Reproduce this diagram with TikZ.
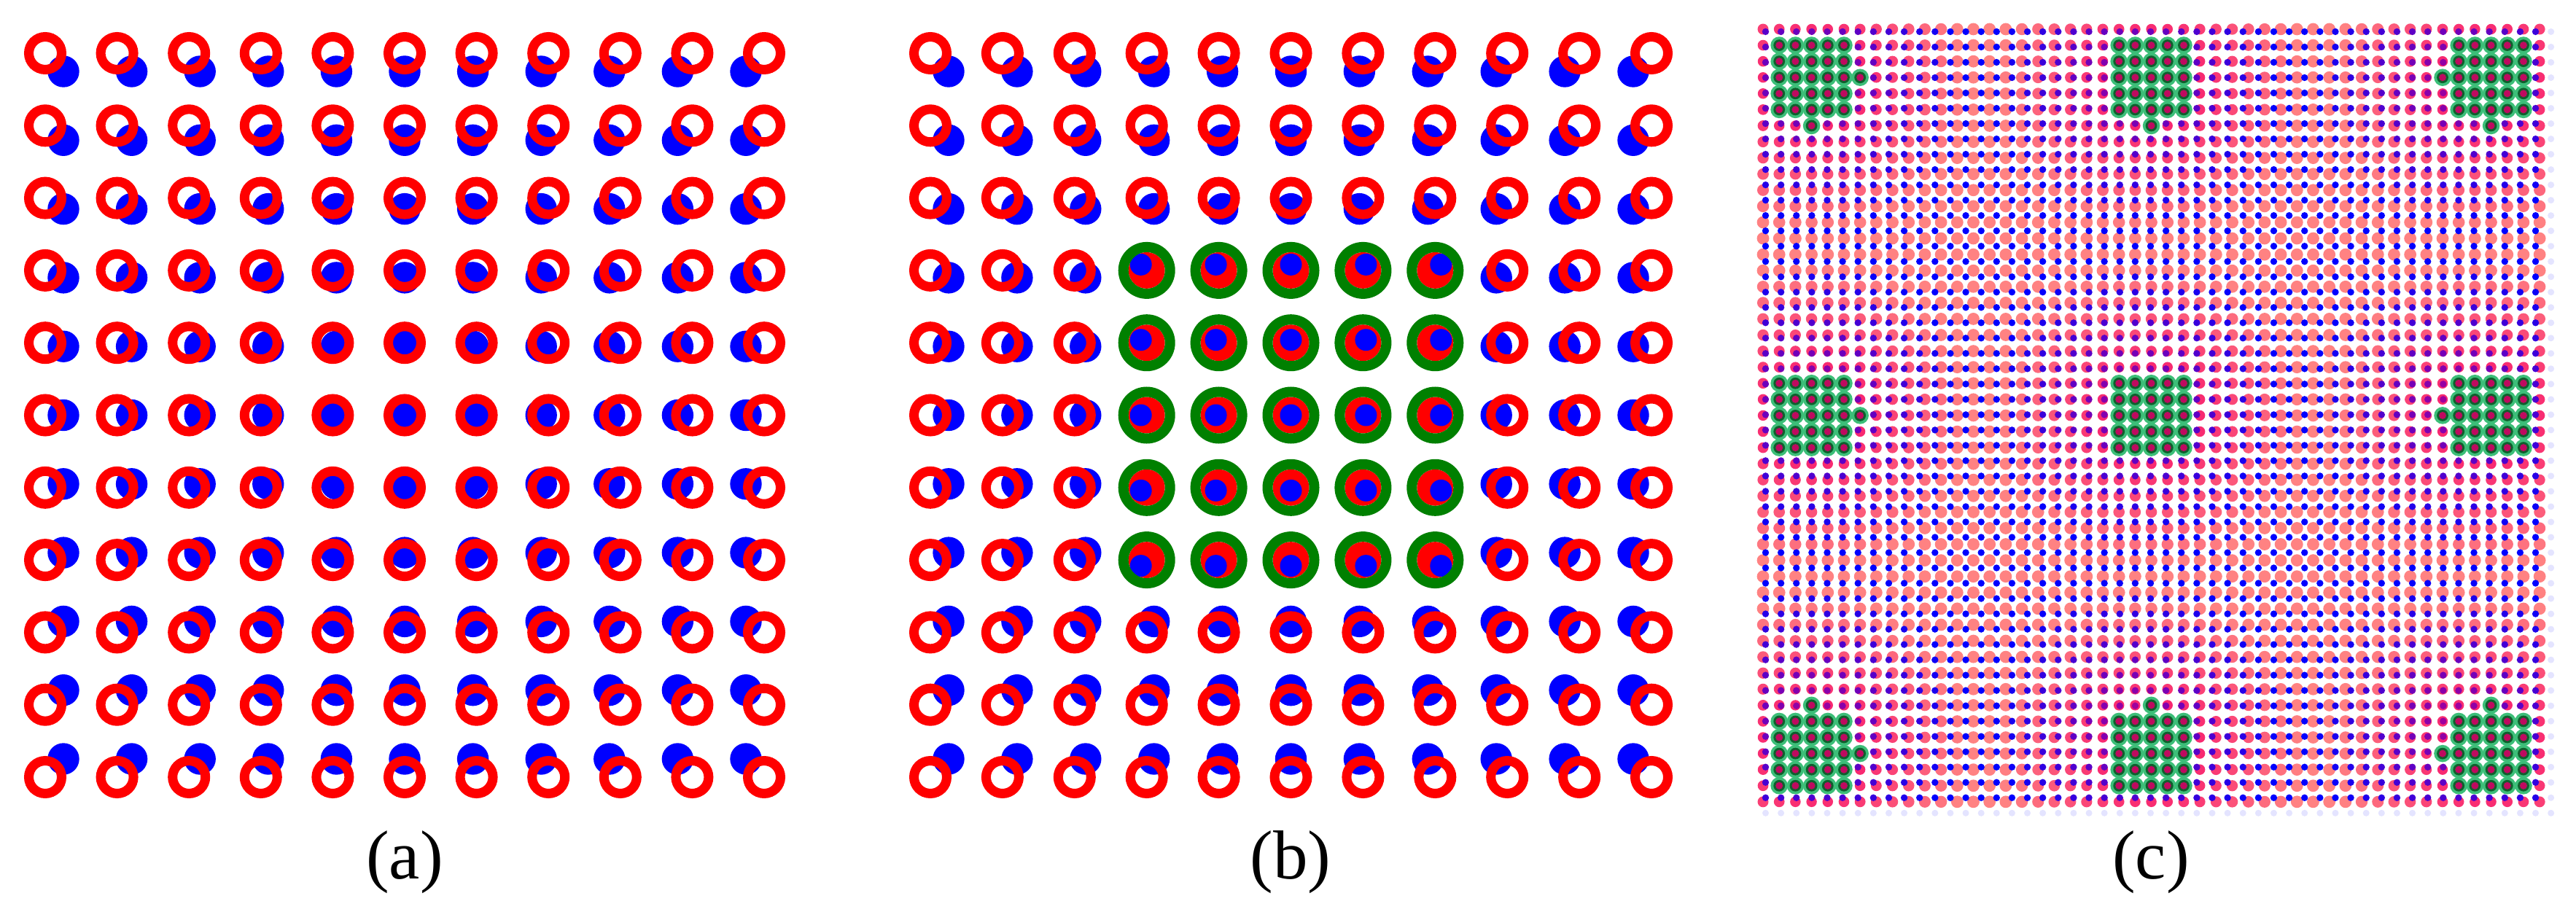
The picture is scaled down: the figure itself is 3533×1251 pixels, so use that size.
\documentclass[tikz,border=0pt]{standalone}
\usepackage{fontspec}
\setmainfont{Liberation Serif}
\definecolor{mred}{RGB}{255,0,0}
\definecolor{mblue}{RGB}{0,0,255}
\definecolor{mgreen}{RGB}{0,128,0}
\definecolor{salm}{RGB}{255,130,130}
\definecolor{crim}{RGB}{245,0,105}
\definecolor{mint}{RGB}{60,190,120}
\definecolor{dgreen}{RGB}{15,95,45}
\definecolor{gcent}{RGB}{190,10,95}
\definecolor{ghost}{RGB}{228,228,255}
\newcommand\gcells[1]{%
 \foreach \bc/\br in {3/3,24/3,45/3,3/24,24/24,45/24,3/45,24/45,45/45}{%
  \foreach \ga in {-2,...,2}{\foreach \gb in {-2,...,2}{#1{\bc+\ga}{\br+\gb}}}}%
 \foreach \cc/\rr in {6/3,3/6,42/3,45/6,3/42,6/45,45/42,42/45,24/6,24/42,6/24,42/24}{#1{\cc}{\rr}}%
}
\newcommand\mintdot[2]{\fill[mint] ({2418+22.19*(#1)},{40+22.08*(#2)}) circle[radius=2.36pt];}
\newcommand\darkdot[2]{\fill[dgreen] ({2418+22.19*(#1)},{40+22.08*(#2)}) circle[radius=1.58pt];}
\newcommand\centdot[2]{\fill[gcent] ({2418+22.19*(#1)},{40+22.08*(#2)}) circle[radius=1.0pt];}
\begin{document}
\begin{tikzpicture}[x=0.2pt,y=-0.2pt]
\fill[white] (0,0) rectangle (3533,1251);
\useasboundingbox (0,0) rectangle (3533,1251);
% panel (a)
\foreach \i in {0,...,10}{
 \foreach \j in {0,...,10}{
  \pgfmathsetmacro\xx{62+98.6*\i}
  \pgfmathsetmacro\yy{73+99.3*\j}
  \fill[mblue] ({\xx-5*\i+25},{\yy-5*\j+25}) circle[radius=4.34pt];
  \draw[mred, line width=2.6pt] (\xx,\yy) circle[radius=4.5pt];
 }}
% panel (b)
\foreach \i in {0,...,10}{
 \foreach \j in {0,...,10}{
  \pgfmathsetmacro\xx{1276+98.9*\i}
  \pgfmathsetmacro\yy{73+99.3*\j}
  \pgfmathtruncatemacro\gr{(\i>2)&&(\i<8)&&(\j>2)&&(\j<8)}
  \ifnum\gr>0
   \fill[mred] (\xx,\yy) circle[radius=5pt];
   \fill[mblue] ({\xx+4*(\i-5)},{\yy+4*(\j-5)}) circle[radius=3pt];
   \draw[mgreen, line width=2.8pt] (\xx,\yy) circle[radius=6.4pt];
  \else
   \fill[mblue] ({\xx-5*\i+25},{\yy-5*\j+25}) circle[radius=4.34pt];
   \draw[mred, line width=2.6pt] (\xx,\yy) circle[radius=4.5pt];
  \fi
 }}
% panel (c): red lattice 49 x 49
\foreach \i in {0,...,48}{
 \pgfmathsetmacro\tx{(\i-3.25)*0.048193}
 \pgfmathsetmacro\dx{(\tx-round(\tx))*22.19}
 \pgfmathsetmacro\xx{2418+22.19*\i}
 \foreach \j in {0,...,48}{
  \pgfmathsetmacro\ty{(\j-3.25)*0.048193}
  \pgfmathsetmacro\dy{(\ty-round(\ty))*22.08}
  \pgfmathsetmacro\aa{min(1,2.2*sqrt(\dx*\dx+\dy*\dy)/22.1)}
  \pgfmathsetmacro\pa{100*\aa}
  \pgfmathsetmacro\yy{40+22.08*\j}
  \fill[salm!\pa!crim] (\xx,\yy) circle[radius={(6.6+1.8*\aa)*0.2pt}];
 }}
% panel (c): blue lattice, slightly contracted
\foreach \k in {0,...,51}{
 \pgfmathsetmacro\ex{3.25+(\k-3.25)*0.951807}
 \pgfmathsetmacro\xb{2418+22.19*\ex}
 \pgfmathsetmacro\ddx{(\ex-round(\ex))*22.19}
 \foreach \l in {0,...,51}{
  \pgfmathsetmacro\ey{3.25+(\l-3.25)*0.951807}
  \pgfmathsetmacro\yb{40+22.08*\ey}
  \pgfmathsetmacro\ddy{(\ey-round(\ey))*22.08}
  \pgfmathsetmacro\ab{min(1,2.2*sqrt(\ddx*\ddx+\ddy*\ddy)/22.1)}
  \pgfmathsetmacro\pb{30+70*\ab}
  \pgfmathtruncatemacro\edge{(\k==51)||(\l==51)}
  \ifnum\edge>0
   \fill[ghost] (\xb,\yb) circle[radius=0.9pt];
  \else
   \fill[mblue!\pb!crim] (\xb,\yb) circle[radius=0.94pt];
  \fi
 }}
\gcells\mintdot
\gcells\darkdot
\gcells\centdot
% labels
\node[font=\fontsize{19}{23}\selectfont] (la) at (555,1183) {(a)};
\node[font=\fontsize{19}{23}\selectfont] (lb) at (1770,1183) {(b)};
\node[font=\fontsize{19}{23}\selectfont] (lc) at (2950,1183) {(c)};
\end{tikzpicture}
\end{document}
